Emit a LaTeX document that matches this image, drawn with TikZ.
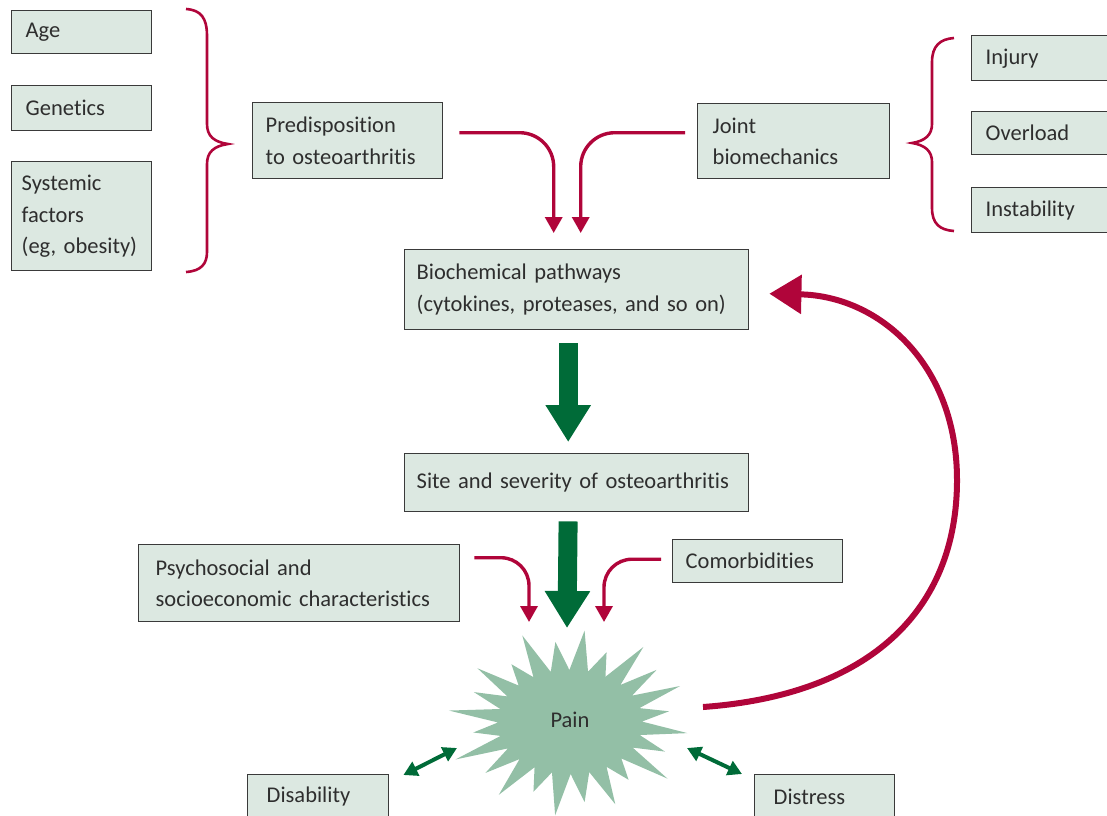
\documentclass[tikz,border=0pt]{standalone}
\usepackage{fontspec}
\setmainfont{Carlito}[WordSpace=0.7, Ligatures=NoCommon]
\usetikzlibrary{arrows.meta}
\hyphenpenalty=10000
\exhyphenpenalty=10000

\definecolor{boxfill}{HTML}{DCE8E1}
\definecolor{boxline}{HTML}{3A3A3A}
\definecolor{inktext}{HTML}{2E2E2E}
\definecolor{linkred}{HTML}{B0053A}
\definecolor{flowgreen}{HTML}{006B38}
\definecolor{painfill}{HTML}{93BFA6}

\begin{document}
\begin{tikzpicture}[x=1pt,y=-1pt,
  box/.style={draw=boxline, fill=boxfill, line width=1.4pt, anchor=north west,
    align=left, inner xsep=13pt, inner ysep=0pt, text=inktext,
    font=\fontsize{22.5}{31.5}\selectfont},
  brace/.style={draw=linkred, line width=2.6pt},
  link/.style={draw=linkred, line width=3.4pt, rounded corners=34pt,
    -{Triangle[length=16pt,width=17pt]}},
  fat/.style={draw=flowgreen, line width=19pt,
    -{Triangle[length=37pt,width=43pt]}},
  dbl/.style={draw=flowgreen, line width=4pt,
    {Triangle[length=14pt,width=15pt]}-{Triangle[length=14pt,width=15pt]}},
  feedback/.style={draw=linkred, line width=6pt,
    -{Triangle[length=32pt,width=38pt]}}]

\useasboundingbox (0,0) rectangle (1107,815);
\clip (0,0) rectangle (1107,815);

% risk factors on the left
\node[box, minimum width=140pt, minimum height=43pt, text width=112pt, inner xsep=14pt] (age) at (11,10) {Age};
\node[box, minimum width=140pt, minimum height=45pt, text width=112pt, inner xsep=14pt] (gen) at (11,85) {Genetics};
\node[box, minimum width=140pt, minimum height=109pt, text width=124pt, inner xsep=8pt] (sys) at (11,161) {\hspace*{2pt}Systemic\\\hspace*{2pt}factors\\\hspace*{2pt}(eg, obesity)};

\draw[brace] (186,9) .. controls (201,10) and (207,18) .. (207,36) -- (207,124)
  .. controls (207,136) and (214,142) .. (228,144)
  .. controls (214,146) and (207,152) .. (207,164) -- (207,252)
  .. controls (207,264) and (201,271) .. (186,272);

\node[box, minimum width=190pt, minimum height=76pt, text width=164pt] (predisp) at (252,102) {Predisposition\\to osteoarthritis};

% mechanical factors on the right
\node[box, minimum width=192pt, minimum height=75pt, text width=162pt, inner xsep=15pt] (joint) at (697,103) {Joint\\biomechanics};

\draw[brace] (954,38) .. controls (940,39) and (932,46) .. (932,62) -- (932,124)
  .. controls (932,135) and (925,141) .. (912,143)
  .. controls (925,145) and (932,151) .. (932,162) -- (932,208)
  .. controls (932,224) and (940,230) .. (954,231);

\node[box, minimum width=150pt, minimum height=45pt, text width=122pt, inner xsep=14pt] (injury) at (971,35) {Injury};
\node[box, minimum width=150pt, minimum height=43pt, text width=122pt, inner xsep=14pt] (overload) at (971,111) {Overload};
\node[box, minimum width=150pt, minimum height=45pt, text width=122pt, inner xsep=14pt] (instab) at (971,187) {Instability};

% central chain
\node[box, minimum width=344pt, minimum height=80pt, text width=320pt, inner xsep=12pt] (biochem) at (404,249) {Biochemical pathways\\(cytokines, proteases, and so on)};
\node[box, minimum width=344pt, minimum height=58pt, text width=320pt, inner xsep=12pt] (site) at (404,453) {Site and severity of osteoarthritis};

\node[box, minimum width=321pt, minimum height=77pt, text width=287pt, inner xsep=17pt] (psycho) at (138,544) {Psychosocial and\\socioeconomic characteristics};
\node[box, minimum width=170pt, minimum height=43pt, text width=144pt] (comorb) at (672,539) {Comorbidities};

% pain burst
\fill[painfill, shift={(570,722)}] (-0.5:72 and 52)
  \foreach \f [count=\i from 0] in {0.97,0.84,1.0,0.78,0.95,0.86,1.0,0.8,0.97,0.88,1.02,0.8,
                                    1.0,0.85,0.95,0.78,1.0,0.86,0.98,0.8,1.0,0.9,0.98,0.82}
  { -- ({\i*15+7}:{122*\f} and {94*\f}) -- ({\i*15+14.5}:72 and 52) } -- cycle;
\node[text=inktext, font=\fontsize{22.5}{28}\selectfont] (pain) at (570,720) {Pain};

\node[box, minimum width=141pt, minimum height=44pt, text width=103pt, inner xsep=19pt] (disab) at (247,774) {Disability};
\node[box, minimum width=140pt, minimum height=44pt, text width=102pt, inner xsep=19pt] (distress) at (754,774) {Distress};

% connector end points around the burst
\coordinate (paintip) at (567,628);
\coordinate (psyend) at (529,622);
\coordinate (comend) at (604,622);
\coordinate (painsw) at (457,748);
\coordinate (painse) at (687,748);
\coordinate (painout) at (703,707);

% red inputs
\draw[link, shorten >=16pt] ([xshift=16pt,yshift=8pt]predisp.east) -| ([xshift=-23pt]biochem.north);
\draw[link, shorten >=16pt] ([xshift=-12pt,yshift=8.5pt]joint.west) -| ([xshift=4pt]biochem.north);
\draw[link, rounded corners=28pt] ([xshift=14pt,yshift=25.5pt]psycho.east) -| (psyend);
\draw[link, rounded corners=28pt] ([xshift=-11pt,yshift=2pt]comorb.west) -| (comend);

% green flow
\draw[fat, shorten <=13pt, shorten >=11pt] ([xshift=-8.5pt]biochem.south) -- ([xshift=-8.5pt]site.north);
\draw[fat, shorten <=9pt] ([xshift=-8.5pt]site.south) -- (paintip);

% consequences
\draw[dbl] ([xshift=14pt,yshift=-1pt]disab.north east) -- (painsw);
\draw[dbl] ([xshift=-12pt]distress.north west) -- (painse);

% feedback loop
\draw[feedback] (painout) .. controls (870,695) and (957,610) .. (957,480)
  .. controls (957,365) and (880,296) .. ([xshift=20pt,yshift=-4pt]biochem.east);

\end{tikzpicture}
\end{document}
